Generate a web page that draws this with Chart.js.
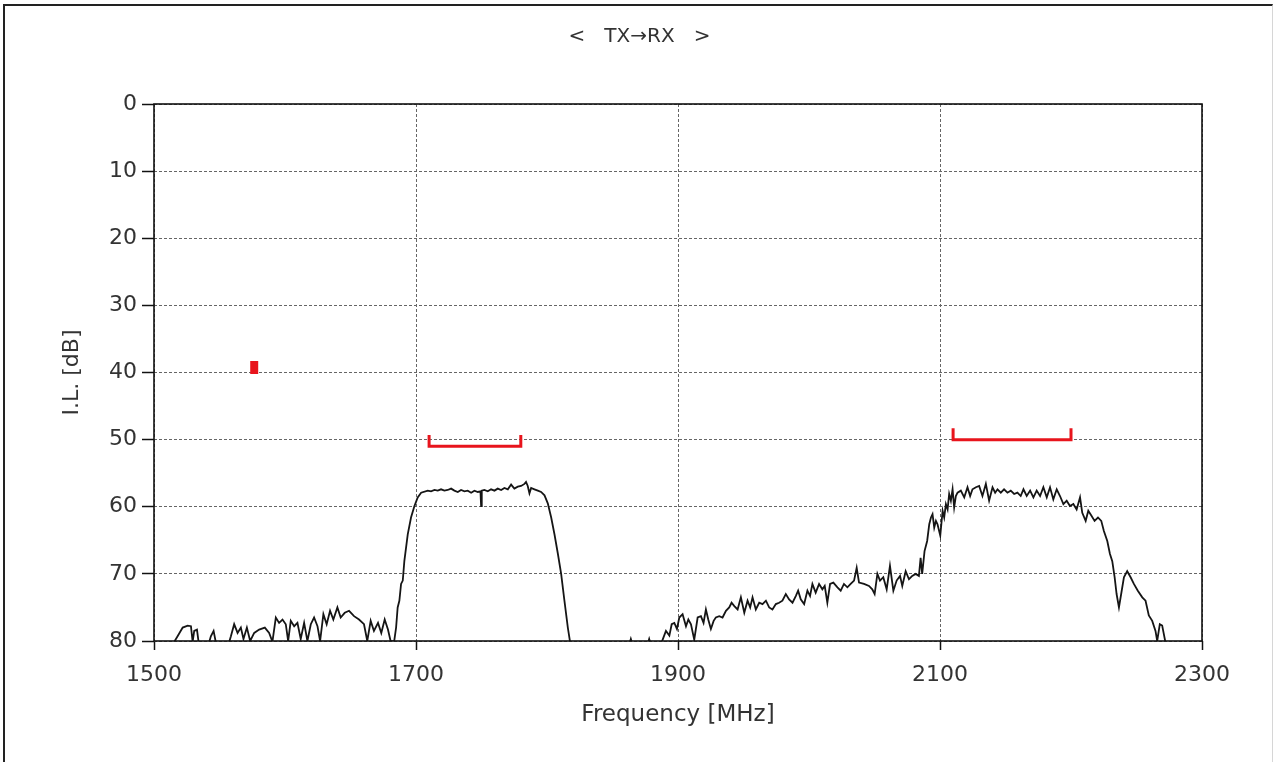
<!DOCTYPE html>
<html>
<head>
<meta charset="utf-8">
<title>TX→RX insertion loss</title>
<script src="https://cdn.jsdelivr.net/npm/chart.js@4.4.1/dist/chart.umd.min.js"></script>
<style>
  html, body { margin: 0; padding: 0; background: #fff; overflow: hidden; }
  #frame {
    position: absolute; left: 3px; top: 4px; width: 1267px; height: 800px;
    border-left: 2px solid #222; border-top: 2px solid #222; border-right: 1px solid #d6d6d6;
  }
  #wrap { position: absolute; left: 0; top: 0; width: 1279px; height: 762px; }
</style>
</head>
<body>
<div id="frame"></div>
<div id="wrap"><canvas id="chart" width="1279" height="762"></canvas></div>
<script>
// tick labels
var xTicks = [1500, 1700, 1900, 2100, 2300];
var yTicks = [0, 10, 20, 30, 40, 50, 60, 70, 80];

var freqMHz = [
  1512, 1515.5, 1518, 1521.9, 1525.7, 1528.2, 1529.5, 1530.7, 1532.8, 1534.6,
  1540.9, 1543.4, 1545.5, 1548, 1556.1, 1558.7, 1561.2, 1563.8, 1566.3, 1568.3,
  1570.9, 1573.4, 1576.5, 1580.3, 1584.6, 1587.9, 1590.4, 1593, 1595.5, 1598.1,
  1600.6, 1602.4, 1604.4, 1607, 1609.5, 1612, 1614.6, 1617.1, 1619.7, 1622.2,
  1624.8, 1626.8, 1629.3, 1631.8, 1634.4, 1636.9, 1640, 1642.5, 1645.6, 1648.9,
  1652.7, 1656.5, 1660.3, 1662.8, 1665.4, 1667.9, 1671, 1673.5, 1676.1, 1678.6,
  1680.6, 1683.3,
  1684.8, 1686, 1687.3, 1688.6, 1689.9, 1691.1, 1693.7, 1696.2, 1698.8, 1701.3,
  1703.9, 1709, 1711.5, 1714.1, 1716.6, 1719.1, 1721.7, 1724.2, 1726.8, 1729.3,
  1731.9, 1734.4, 1737, 1739.5, 1742.1, 1744.6, 1747.2, 1749.2, 1749.7, 1750.2,
  1752.2, 1754.8, 1757.3, 1759.9, 1762.4, 1765, 1767.5, 1770.1, 1772.6, 1775.1,
  1777.7, 1780.2, 1782.8, 1784, 1785.3, 1786.6, 1787.9, 1790.4, 1793, 1795.5,
  1798.1, 1800.6, 1803.2, 1805.7, 1808.3, 1810.8, 1813.3, 1815.9, 1817.9, 1820,
  1862, 1864, 1866, 1876, 1878, 1880, 1886,
  1888.3, 1890.8, 1893.4, 1895.2, 1897.2, 1899.2, 1901, 1903.5, 1906.1, 1907.9,
  1909.9, 1912.4, 1915, 1917.5, 1919.5, 1921.3, 1923.1, 1925.1, 1927.2, 1928.9,
  1931.5, 1934, 1936.6, 1939.1, 1940.9, 1943, 1945.5, 1948, 1950.6, 1953.1,
  1955.1, 1956.9, 1959.4, 1962, 1964.5, 1967.1, 1969.6, 1972.1, 1974.7, 1977.2,
  1979.7, 1982.3, 1984.8, 1987.4, 1989.9, 1991.7, 1993.7, 1996.3, 1998.8, 2000.8,
  2002.6, 2005.1, 2007.7, 2010.2, 2012, 2014, 2016.1, 2018.6, 2021.7, 2024.2,
  2026.7, 2029.3, 2031.8, 2034.4, 2036.4, 2038.2, 2042, 2045.8, 2048.3, 2050.1,
  2052.2, 2054.2, 2056.7, 2059.3, 2061.8, 2064.4, 2066.9, 2069.5, 2071.2, 2073.8,
  2076.3, 2078.8, 2081.4, 2083.9, 2085.2, 2086.4, 2088.2, 2090.2,
  2091.8, 2093.1, 2094.3, 2095.6, 2096.9, 2098.1, 2100.2, 2102, 2103.2, 2104.5,
  2105.8, 2107, 2108.3, 2109.6, 2110.8, 2112.1, 2113.4, 2115.9, 2118.5, 2121,
  2123, 2124.8, 2127.4, 2129.9, 2132.4, 2135, 2137.5, 2140.1, 2142.1, 2143.9,
  2146.4, 2148.9, 2151.5, 2154, 2156.6, 2159.1, 2161.6, 2163.7, 2166.2, 2168.8,
  2171.3, 2173.8, 2176.4, 2178.9, 2181.5, 2184, 2186.5, 2189.1, 2191.6, 2194.2,
  2196.7, 2199.2, 2201.8, 2204.3, 2206.9, 2208.6, 2211.2, 2213.2, 2215.5, 2218,
  2220.6, 2223.1, 2225.1, 2227.7, 2229.7, 2231.5, 2233.3, 2234.8, 2236.6, 2238.3,
  2240.4, 2242.9, 2245.5, 2248, 2251, 2254.4, 2256.9, 2259.4, 2262, 2264.5,
  2265.8, 2267.8, 2269.6, 2272.1, 2276
];
var ilDb = [
  82, 80.1, 79.3, 78.0, 77.7, 77.8, 80.1, 78.5, 78.3, 81,
  81, 79.3, 78.5, 81, 81, 79.3, 77.5, 78.8, 78.0, 79.7,
  78.0, 80.0, 78.8, 78.3, 78.0, 78.8, 80.1, 76.5, 77.3, 76.8,
  77.5, 80.0, 77.0, 77.8, 77.3, 79.7, 77.3, 80.0, 77.5, 76.5,
  77.8, 80.0, 76.0, 77.5, 75.5, 76.8, 75.0, 76.5, 75.8, 75.5,
  76.3, 76.8, 77.5, 80.0, 77.0, 78.5, 77.3, 78.8, 76.8, 78.3,
  80.0, 80.1,
  78.0, 75.0, 74.0, 71.5, 71.0, 68.1, 64.1, 61.6, 59.9, 58.6,
  57.9, 57.6, 57.7, 57.5, 57.6, 57.4, 57.6, 57.5, 57.3, 57.6,
  57.8, 57.5, 57.7, 57.6, 57.9, 57.6, 57.8, 57.7, 59.9, 57.6,
  57.5, 57.7, 57.4, 57.6, 57.3, 57.5, 57.2, 57.4, 56.7, 57.3,
  57.0, 56.9, 56.6, 56.3, 56.9, 58.0, 57.2, 57.4, 57.6, 57.8,
  58.3, 59.5, 61.6, 64.1, 67.0, 70.0, 74.0, 78.0, 80.5, 81,
  81, 79.7, 81, 81, 79.7, 81, 81,
  79.8, 78.5, 79.2, 77.5, 77.3, 78.2, 76.5, 76.0, 77.8, 76.8,
  77.5, 79.8, 76.5, 76.3, 77.3, 75.3, 76.8, 78.2, 77.0, 76.5,
  76.3, 76.5, 75.5, 75.0, 74.3, 74.8, 75.3, 73.5, 75.8, 74.0,
  75.0, 73.5, 75.3, 74.3, 74.5, 74.0, 75.0, 75.3, 74.5, 74.3,
  74.0, 73.0, 73.8, 74.3, 73.3, 72.5, 73.8, 74.5, 72.5, 73.3,
  71.5, 72.8, 71.5, 72.3, 71.8, 74.3, 71.5, 71.3, 72.0, 72.5,
  71.5, 72.0, 71.5, 71.0, 69.1, 71.3, 71.5, 71.8, 72.3, 73.0,
  70.0, 71.0, 70.5, 72.3, 68.8, 72.5, 71.0, 70.3, 71.8, 69.6,
  70.8, 70.3, 70.0, 70.3, 67.6, 70.0, 66.6, 65.1,
  62.6, 61.6, 61.1, 63.1, 62.1, 62.6, 64.3, 60.6, 61.6, 59.6,
  60.4, 58.1, 59.1, 57.4, 60.1, 58.4, 57.9, 57.6, 58.6, 57.1,
  58.4, 57.4, 57.1, 56.9, 58.4, 56.6, 59.1, 57.1, 57.9, 57.4,
  57.9, 57.4, 57.9, 57.6, 58.1, 57.9, 58.4, 57.4, 58.4, 57.6,
  58.6, 57.6, 58.4, 57.1, 58.6, 57.1, 58.9, 57.4, 58.4, 59.6,
  59.1, 59.9, 59.6, 60.4, 58.6, 60.9, 62.1, 60.6, 61.3, 62.1,
  61.6, 62.1, 63.6, 65.1, 67.0, 68.1, 70.5, 73.0, 75.0, 73.0,
  70.5, 69.6, 70.5, 71.5, 72.5, 73.5, 74.0, 76.2, 77.0, 78.5,
  80.0, 77.5, 77.7, 80.2, 82
];

// spec brackets (red): band start, band end, limit level in dB
var limitFrom  = [1574.6, 1710, 2110];
var limitTo    = [1578.4, 1780, 2200];
var limitLevel = [40, 51, 50];

var tracePoints = freqMHz.map(function(f, i){ return {x: f, y: ilDb[i]}; });

var limitSets = limitFrom.map(function(f, i){
    var lvl = limitLevel[i];
    var narrow = (limitTo[i] - f) < 10;
    return {
        label: 'limit ' + (i + 1),
        data: [
            {x: f, y: lvl - 1.7},
            {x: f, y: lvl},
            {x: limitTo[i], y: lvl},
            {x: limitTo[i], y: lvl - 1.7}
        ],
        borderColor: '#e8141c',
        backgroundColor: '#e8141c',
        borderWidth: 3,
        borderJoinStyle: 'miter',
        fill: narrow ? 'shape' : false,
        pointRadius: 0,
        tension: 0
    };
});

// solid box round the plot area
var framePlugin = {
    id: 'plotFrame',
    afterDraw: function(chart){
        var a = chart.chartArea, ctx = chart.ctx;
        ctx.save();
        ctx.strokeStyle = '#111';
        ctx.lineWidth = 1.6;
        ctx.strokeRect(a.left, a.top, a.right - a.left, a.bottom - a.top);
        ctx.restore();
    }
};

var font = 'DejaVu Sans';

new Chart(document.getElementById('chart'), {
    type: 'line',
    data: {
        datasets: [{
            label: 'I.L.',
            data: tracePoints,
            borderColor: '#151515',
            borderWidth: 1.8,
            pointRadius: 0,
            tension: 0,
            fill: false
        }].concat(limitSets)
    },
    options: {
        responsive: false,
        animation: false,
        layout: { padding: 0 },
        plugins: {
            legend: { display: false },
            tooltip: { enabled: false },
            title: {
                display: true,
                text: '<   TX→RX   >',
                color: '#333',
                font: { family: font, size: 20, weight: 'normal' },
                padding: { top: 25, bottom: 55 }
            }
        },
        scales: {
            x: {
                type: 'linear',
                min: 1500,
                max: 2300,
                afterBuildTicks: function(s){ s.ticks = xTicks.map(function(v){ return {value: v}; }); },
                afterFit: function(s){ s.height = 121; },
                border: { display: false, dash: [3, 2] },
                grid: {
                    color: '#666',
                    lineWidth: 1,
                    tickLength: 9,
                    tickColor: '#111',
                    tickWidth: 1.5,
                    tickBorderDash: []
                },
                ticks: {
                    color: '#333',
                    padding: 12,
                    maxRotation: 0,
                    font: { family: font, size: 22 },
                    callback: function(v){ return String(v); }
                },
                title: {
                    display: true,
                    text: 'Frequency [MHz]',
                    color: '#333',
                    font: { family: font, size: 23 },
                    padding: { top: 0, bottom: 33 }
                }
            },
            y: {
                type: 'linear',
                min: 0,
                max: 80,
                reverse: true,
                afterBuildTicks: function(s){ s.ticks = yTicks.map(function(v){ return {value: v}; }); },
                afterFit: function(s){ s.width = 154; },
                border: { display: false, dash: [3, 2] },
                grid: {
                    color: '#666',
                    lineWidth: 1,
                    tickLength: 12,
                    tickColor: '#111',
                    tickWidth: 1.5,
                    tickBorderDash: []
                },
                ticks: {
                    color: '#333',
                    padding: 5,
                    font: { family: font, size: 22 },
                    callback: function(v){ return String(v); }
                },
                title: {
                    display: true,
                    text: 'I.L. [dB]',
                    color: '#333',
                    font: { family: font, size: 22 },
                    padding: { top: 59, bottom: 0 }
                }
            },
            // empty right-hand margin so the title stays centred on the page
            yRight: {
                type: 'linear',
                position: 'right',
                min: 0,
                max: 80,
                afterFit: function(s){ s.width = 77; },
                border: { display: false },
                grid: { drawOnChartArea: false, drawTicks: false },
                ticks: { display: false }
            }
        }
    },
    plugins: [framePlugin]
});
</script>
</body>
</html>
